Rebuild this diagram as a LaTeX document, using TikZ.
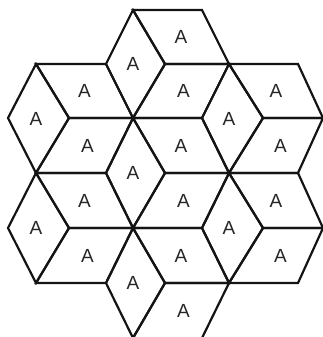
\documentclass[tikz,border=0pt]{standalone}
\usepackage{fontspec}
\setmainfont{Liberation Sans}
\usetikzlibrary{calc}
\begin{document}
\begin{tikzpicture}[x=1pt,y=1pt,
  edge/.style={draw=black!92, line width=2.2pt, line join=miter},
  lab/.style={font=\fontsize{19}{19}\selectfont, text=black!85, inner sep=0pt}]
\useasboundingbox (0,0) rectangle (322,337);
\foreach \n/\x in {a/8,b/36,c/69,d/106,e/133,f/165,g/202,h/229,i/263,j/298,k/323}
  \foreach \m/\y in {0/10,1/64,2/118,3/173,4/228,5/283,6/338}
    \coordinate (\n\m) at (\x,{337-\y});
\foreach \p/\q/\r/\s [count=\k] in {
  e0/g0/h1/f1, e0/f1/e2/d1, b1/d1/e2/c2, b1/c2/b3/a2, c2/e2/d3/b3,
  f1/h1/g2/e2, h1/j1/k2/i2, h1/i2/h3/g2, i2/k2/j3/h3, e2/g2/h3/f3,
  e2/f3/e4/d3, b3/d3/e4/c4, b3/c4/b5/a4, c4/e4/d5/b5, f3/h3/g4/e4,
  h3/i4/h5/g4, h3/j3/k4/i4, i4/k4/j5/h5, e4/g4/h5/f5, e4/f5/e6/d5}
{
  \draw[edge] (\p) -- (\q) -- (\r) -- (\s) -- cycle;
  \node[lab] (l\k) at ($(\p)!0.5!(\r)$) {A};
}
\draw[edge] (e6) -- (f5) -- (h5) -- (g6);
\node[lab] (l21) at ($(f5)!0.5!(g6)$) {A};
\end{tikzpicture}
\end{document}
